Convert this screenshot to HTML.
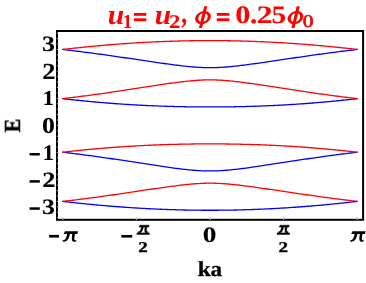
<!DOCTYPE html>
<html><head><meta charset="utf-8"><title>plot</title>
<style>
html,body{margin:0;padding:0;background:#fff;}
body{width:366px;height:283px;overflow:hidden;font-family:"Liberation Serif",serif;}
svg{display:block;position:absolute;left:0;top:0;}
text{font-family:"Liberation Serif",serif;font-weight:bold;stroke-linejoin:round;text-rendering:geometricPrecision;}
</style></head><body>
<svg width="366" height="283" viewBox="0 0 366 283">
<rect x="0" y="0" width="366" height="283" fill="#fff"/>
<g fill="none" stroke-width="1.3" stroke-linejoin="round" stroke-linecap="round">
<path d="M62.78,49.46 L64.42,49.65 L66.06,49.85 L67.69,50.04 L69.33,50.24 L70.96,50.43 L72.60,50.63 L74.24,50.84 L75.87,51.04 L77.51,51.24 L79.14,51.45 L80.78,51.66 L82.41,51.86 L84.05,52.08 L85.69,52.29 L87.32,52.50 L88.96,52.72 L90.59,52.93 L92.23,53.15 L93.86,53.37 L95.50,53.59 L97.14,53.81 L98.77,54.03 L100.41,54.26 L102.04,54.48 L103.68,54.71 L105.31,54.94 L106.95,55.17 L108.59,55.40 L110.22,55.63 L111.86,55.86 L113.49,56.10 L115.13,56.33 L116.76,56.57 L118.40,56.80 L120.04,57.04 L121.67,57.28 L123.31,57.51 L124.94,57.75 L126.58,57.99 L128.21,58.23 L129.85,58.47 L131.49,58.72 L133.12,58.96 L134.76,59.20 L136.39,59.44 L138.03,59.69 L139.66,59.93 L141.30,60.17 L142.94,60.41 L144.57,60.66 L146.21,60.90 L147.84,61.14 L149.48,61.38 L151.11,61.62 L152.75,61.86 L154.39,62.10 L156.02,62.34 L157.66,62.58 L159.29,62.81 L160.93,63.05 L162.56,63.28 L164.20,63.51 L165.84,63.74 L167.47,63.97 L169.11,64.19 L170.74,64.41 L172.38,64.63 L174.01,64.84 L175.65,65.05 L177.29,65.26 L178.92,65.46 L180.56,65.65 L182.19,65.85 L183.83,66.03 L185.46,66.21 L187.10,66.38 L188.74,66.54 L190.37,66.69 L192.01,66.84 L193.64,66.98 L195.28,67.10 L196.91,67.21 L198.55,67.32 L200.19,67.41 L201.82,67.49 L203.46,67.55 L205.09,67.60 L206.73,67.64 L208.36,67.66 L210.00,67.67 L211.64,67.66 L213.27,67.64 L214.91,67.60 L216.54,67.55 L218.18,67.49 L219.81,67.41 L221.45,67.32 L223.09,67.21 L224.72,67.10 L226.36,66.98 L227.99,66.84 L229.63,66.69 L231.26,66.54 L232.90,66.38 L234.54,66.21 L236.17,66.03 L237.81,65.85 L239.44,65.65 L241.08,65.46 L242.71,65.26 L244.35,65.05 L245.99,64.84 L247.62,64.63 L249.26,64.41 L250.89,64.19 L252.53,63.97 L254.16,63.74 L255.80,63.51 L257.44,63.28 L259.07,63.05 L260.71,62.81 L262.34,62.58 L263.98,62.34 L265.61,62.10 L267.25,61.86 L268.89,61.62 L270.52,61.38 L272.16,61.14 L273.79,60.90 L275.43,60.66 L277.06,60.41 L278.70,60.17 L280.34,59.93 L281.97,59.69 L283.61,59.44 L285.24,59.20 L286.88,58.96 L288.51,58.72 L290.15,58.47 L291.79,58.23 L293.42,57.99 L295.06,57.75 L296.69,57.51 L298.33,57.28 L299.96,57.04 L301.60,56.80 L303.24,56.57 L304.87,56.33 L306.51,56.10 L308.14,55.86 L309.78,55.63 L311.41,55.40 L313.05,55.17 L314.69,54.94 L316.32,54.71 L317.96,54.48 L319.59,54.26 L321.23,54.03 L322.86,53.81 L324.50,53.59 L326.14,53.37 L327.77,53.15 L329.41,52.93 L331.04,52.72 L332.68,52.50 L334.31,52.29 L335.95,52.08 L337.59,51.86 L339.22,51.66 L340.86,51.45 L342.49,51.24 L344.13,51.04 L345.76,50.84 L347.40,50.63 L349.04,50.43 L350.67,50.24 L352.31,50.04 L353.94,49.85 L355.58,49.65 L357.22,49.46" stroke="#0000ff"/>
<path d="M62.78,49.46 L64.42,49.27 L66.06,49.09 L67.69,48.90 L69.33,48.72 L70.96,48.53 L72.60,48.35 L74.24,48.18 L75.87,48.00 L77.51,47.82 L79.14,47.65 L80.78,47.48 L82.41,47.31 L84.05,47.14 L85.69,46.98 L87.32,46.82 L88.96,46.65 L90.59,46.49 L92.23,46.34 L93.86,46.18 L95.50,46.03 L97.14,45.88 L98.77,45.73 L100.41,45.58 L102.04,45.43 L103.68,45.29 L105.31,45.15 L106.95,45.01 L108.59,44.87 L110.22,44.74 L111.86,44.60 L113.49,44.47 L115.13,44.34 L116.76,44.22 L118.40,44.09 L120.04,43.97 L121.67,43.85 L123.31,43.73 L124.94,43.61 L126.58,43.50 L128.21,43.39 L129.85,43.28 L131.49,43.17 L133.12,43.07 L134.76,42.96 L136.39,42.86 L138.03,42.76 L139.66,42.67 L141.30,42.57 L142.94,42.48 L144.57,42.39 L146.21,42.30 L147.84,42.21 L149.48,42.13 L151.11,42.05 L152.75,41.97 L154.39,41.89 L156.02,41.82 L157.66,41.74 L159.29,41.67 L160.93,41.61 L162.56,41.54 L164.20,41.48 L165.84,41.41 L167.47,41.35 L169.11,41.30 L170.74,41.24 L172.38,41.19 L174.01,41.14 L175.65,41.09 L177.29,41.05 L178.92,41.00 L180.56,40.96 L182.19,40.92 L183.83,40.88 L185.46,40.85 L187.10,40.82 L188.74,40.79 L190.37,40.76 L192.01,40.73 L193.64,40.71 L195.28,40.69 L196.91,40.67 L198.55,40.65 L200.19,40.64 L201.82,40.62 L203.46,40.61 L205.09,40.61 L206.73,40.60 L208.36,40.60 L210.00,40.60 L211.64,40.60 L213.27,40.60 L214.91,40.61 L216.54,40.61 L218.18,40.62 L219.81,40.64 L221.45,40.65 L223.09,40.67 L224.72,40.69 L226.36,40.71 L227.99,40.73 L229.63,40.76 L231.26,40.79 L232.90,40.82 L234.54,40.85 L236.17,40.88 L237.81,40.92 L239.44,40.96 L241.08,41.00 L242.71,41.05 L244.35,41.09 L245.99,41.14 L247.62,41.19 L249.26,41.24 L250.89,41.30 L252.53,41.35 L254.16,41.41 L255.80,41.48 L257.44,41.54 L259.07,41.61 L260.71,41.67 L262.34,41.74 L263.98,41.82 L265.61,41.89 L267.25,41.97 L268.89,42.05 L270.52,42.13 L272.16,42.21 L273.79,42.30 L275.43,42.39 L277.06,42.48 L278.70,42.57 L280.34,42.67 L281.97,42.76 L283.61,42.86 L285.24,42.96 L286.88,43.07 L288.51,43.17 L290.15,43.28 L291.79,43.39 L293.42,43.50 L295.06,43.61 L296.69,43.73 L298.33,43.85 L299.96,43.97 L301.60,44.09 L303.24,44.22 L304.87,44.34 L306.51,44.47 L308.14,44.60 L309.78,44.74 L311.41,44.87 L313.05,45.01 L314.69,45.15 L316.32,45.29 L317.96,45.43 L319.59,45.58 L321.23,45.73 L322.86,45.88 L324.50,46.03 L326.14,46.18 L327.77,46.34 L329.41,46.49 L331.04,46.65 L332.68,46.82 L334.31,46.98 L335.95,47.14 L337.59,47.31 L339.22,47.48 L340.86,47.65 L342.49,47.82 L344.13,48.00 L345.76,48.18 L347.40,48.35 L349.04,48.53 L350.67,48.72 L352.31,48.90 L353.94,49.09 L355.58,49.27 L357.22,49.46" stroke="#ff0000"/>
<path d="M62.78,98.65 L64.42,98.83 L66.06,99.02 L67.69,99.21 L69.33,99.39 L70.96,99.57 L72.60,99.75 L74.24,99.92 L75.87,100.10 L77.51,100.27 L79.14,100.44 L80.78,100.61 L82.41,100.77 L84.05,100.94 L85.69,101.10 L87.32,101.26 L88.96,101.41 L90.59,101.57 L92.23,101.72 L93.86,101.87 L95.50,102.02 L97.14,102.16 L98.77,102.31 L100.41,102.45 L102.04,102.58 L103.68,102.72 L105.31,102.85 L106.95,102.99 L108.59,103.12 L110.22,103.24 L111.86,103.37 L113.49,103.49 L115.13,103.61 L116.76,103.73 L118.40,103.85 L120.04,103.96 L121.67,104.07 L123.31,104.18 L124.94,104.29 L126.58,104.39 L128.21,104.50 L129.85,104.60 L131.49,104.69 L133.12,104.79 L134.76,104.88 L136.39,104.98 L138.03,105.07 L139.66,105.15 L141.30,105.24 L142.94,105.32 L144.57,105.40 L146.21,105.48 L147.84,105.56 L149.48,105.63 L151.11,105.70 L152.75,105.77 L154.39,105.84 L156.02,105.91 L157.66,105.97 L159.29,106.04 L160.93,106.10 L162.56,106.15 L164.20,106.21 L165.84,106.26 L167.47,106.31 L169.11,106.36 L170.74,106.41 L172.38,106.46 L174.01,106.50 L175.65,106.54 L177.29,106.58 L178.92,106.62 L180.56,106.66 L182.19,106.69 L183.83,106.72 L185.46,106.75 L187.10,106.78 L188.74,106.81 L190.37,106.83 L192.01,106.85 L193.64,106.87 L195.28,106.89 L196.91,106.91 L198.55,106.92 L200.19,106.93 L201.82,106.94 L203.46,106.95 L205.09,106.96 L206.73,106.97 L208.36,106.97 L210.00,106.97 L211.64,106.97 L213.27,106.97 L214.91,106.96 L216.54,106.95 L218.18,106.94 L219.81,106.93 L221.45,106.92 L223.09,106.91 L224.72,106.89 L226.36,106.87 L227.99,106.85 L229.63,106.83 L231.26,106.81 L232.90,106.78 L234.54,106.75 L236.17,106.72 L237.81,106.69 L239.44,106.66 L241.08,106.62 L242.71,106.58 L244.35,106.54 L245.99,106.50 L247.62,106.46 L249.26,106.41 L250.89,106.36 L252.53,106.31 L254.16,106.26 L255.80,106.21 L257.44,106.15 L259.07,106.10 L260.71,106.04 L262.34,105.97 L263.98,105.91 L265.61,105.84 L267.25,105.77 L268.89,105.70 L270.52,105.63 L272.16,105.56 L273.79,105.48 L275.43,105.40 L277.06,105.32 L278.70,105.24 L280.34,105.15 L281.97,105.07 L283.61,104.98 L285.24,104.88 L286.88,104.79 L288.51,104.69 L290.15,104.60 L291.79,104.50 L293.42,104.39 L295.06,104.29 L296.69,104.18 L298.33,104.07 L299.96,103.96 L301.60,103.85 L303.24,103.73 L304.87,103.61 L306.51,103.49 L308.14,103.37 L309.78,103.24 L311.41,103.12 L313.05,102.99 L314.69,102.85 L316.32,102.72 L317.96,102.58 L319.59,102.45 L321.23,102.31 L322.86,102.16 L324.50,102.02 L326.14,101.87 L327.77,101.72 L329.41,101.57 L331.04,101.41 L332.68,101.26 L334.31,101.10 L335.95,100.94 L337.59,100.77 L339.22,100.61 L340.86,100.44 L342.49,100.27 L344.13,100.10 L345.76,99.92 L347.40,99.75 L349.04,99.57 L350.67,99.39 L352.31,99.21 L353.94,99.02 L355.58,98.83 L357.22,98.65" stroke="#0000ff"/>
<path d="M62.78,98.65 L64.42,98.45 L66.06,98.26 L67.69,98.07 L69.33,97.87 L70.96,97.67 L72.60,97.47 L74.24,97.26 L75.87,97.06 L77.51,96.85 L79.14,96.64 L80.78,96.43 L82.41,96.22 L84.05,96.01 L85.69,95.79 L87.32,95.57 L88.96,95.35 L90.59,95.13 L92.23,94.91 L93.86,94.68 L95.50,94.46 L97.14,94.23 L98.77,94.00 L100.41,93.77 L102.04,93.53 L103.68,93.30 L105.31,93.06 L106.95,92.83 L108.59,92.59 L110.22,92.35 L111.86,92.11 L113.49,91.87 L115.13,91.63 L116.76,91.38 L118.40,91.14 L120.04,90.89 L121.67,90.64 L123.31,90.40 L124.94,90.15 L126.58,89.90 L128.21,89.65 L129.85,89.40 L131.49,89.15 L133.12,88.90 L134.76,88.65 L136.39,88.39 L138.03,88.14 L139.66,87.89 L141.30,87.64 L142.94,87.39 L144.57,87.13 L146.21,86.88 L147.84,86.63 L149.48,86.38 L151.11,86.13 L152.75,85.88 L154.39,85.63 L156.02,85.39 L157.66,85.14 L159.29,84.90 L160.93,84.65 L162.56,84.41 L164.20,84.17 L165.84,83.94 L167.47,83.70 L169.11,83.47 L170.74,83.24 L172.38,83.02 L174.01,82.80 L175.65,82.58 L177.29,82.37 L178.92,82.16 L180.56,81.96 L182.19,81.77 L183.83,81.58 L185.46,81.39 L187.10,81.22 L188.74,81.05 L190.37,80.89 L192.01,80.75 L193.64,80.61 L195.28,80.48 L196.91,80.36 L198.55,80.26 L200.19,80.16 L201.82,80.08 L203.46,80.02 L205.09,79.97 L206.73,79.93 L208.36,79.91 L210.00,79.90 L211.64,79.91 L213.27,79.93 L214.91,79.97 L216.54,80.02 L218.18,80.08 L219.81,80.16 L221.45,80.26 L223.09,80.36 L224.72,80.48 L226.36,80.61 L227.99,80.75 L229.63,80.89 L231.26,81.05 L232.90,81.22 L234.54,81.39 L236.17,81.58 L237.81,81.77 L239.44,81.96 L241.08,82.16 L242.71,82.37 L244.35,82.58 L245.99,82.80 L247.62,83.02 L249.26,83.24 L250.89,83.47 L252.53,83.70 L254.16,83.94 L255.80,84.17 L257.44,84.41 L259.07,84.65 L260.71,84.90 L262.34,85.14 L263.98,85.39 L265.61,85.63 L267.25,85.88 L268.89,86.13 L270.52,86.38 L272.16,86.63 L273.79,86.88 L275.43,87.13 L277.06,87.39 L278.70,87.64 L280.34,87.89 L281.97,88.14 L283.61,88.39 L285.24,88.65 L286.88,88.90 L288.51,89.15 L290.15,89.40 L291.79,89.65 L293.42,89.90 L295.06,90.15 L296.69,90.40 L298.33,90.64 L299.96,90.89 L301.60,91.14 L303.24,91.38 L304.87,91.63 L306.51,91.87 L308.14,92.11 L309.78,92.35 L311.41,92.59 L313.05,92.83 L314.69,93.06 L316.32,93.30 L317.96,93.53 L319.59,93.77 L321.23,94.00 L322.86,94.23 L324.50,94.46 L326.14,94.68 L327.77,94.91 L329.41,95.13 L331.04,95.35 L332.68,95.57 L334.31,95.79 L335.95,96.01 L337.59,96.22 L339.22,96.43 L340.86,96.64 L342.49,96.85 L344.13,97.06 L345.76,97.26 L347.40,97.47 L349.04,97.67 L350.67,97.87 L352.31,98.07 L353.94,98.26 L355.58,98.45 L357.22,98.65" stroke="#ff0000"/>
<path d="M62.78,152.21 L64.42,152.41 L66.06,152.60 L67.69,152.79 L69.33,152.99 L70.96,153.19 L72.60,153.39 L74.24,153.60 L75.87,153.80 L77.51,154.01 L79.14,154.22 L80.78,154.43 L82.41,154.64 L84.05,154.85 L85.69,155.07 L87.32,155.29 L88.96,155.51 L90.59,155.73 L92.23,155.95 L93.86,156.18 L95.50,156.40 L97.14,156.63 L98.77,156.86 L100.41,157.09 L102.04,157.33 L103.68,157.56 L105.31,157.80 L106.95,158.03 L108.59,158.27 L110.22,158.51 L111.86,158.75 L113.49,158.99 L115.13,159.23 L116.76,159.48 L118.40,159.72 L120.04,159.97 L121.67,160.22 L123.31,160.46 L124.94,160.71 L126.58,160.96 L128.21,161.21 L129.85,161.46 L131.49,161.71 L133.12,161.96 L134.76,162.21 L136.39,162.47 L138.03,162.72 L139.66,162.97 L141.30,163.22 L142.94,163.47 L144.57,163.73 L146.21,163.98 L147.84,164.23 L149.48,164.48 L151.11,164.73 L152.75,164.98 L154.39,165.23 L156.02,165.47 L157.66,165.72 L159.29,165.96 L160.93,166.21 L162.56,166.45 L164.20,166.69 L165.84,166.92 L167.47,167.16 L169.11,167.39 L170.74,167.62 L172.38,167.84 L174.01,168.06 L175.65,168.28 L177.29,168.49 L178.92,168.70 L180.56,168.90 L182.19,169.09 L183.83,169.28 L185.46,169.47 L187.10,169.64 L188.74,169.81 L190.37,169.97 L192.01,170.11 L193.64,170.25 L195.28,170.38 L196.91,170.50 L198.55,170.60 L200.19,170.70 L201.82,170.78 L203.46,170.84 L205.09,170.89 L206.73,170.93 L208.36,170.95 L210.00,170.96 L211.64,170.95 L213.27,170.93 L214.91,170.89 L216.54,170.84 L218.18,170.78 L219.81,170.70 L221.45,170.60 L223.09,170.50 L224.72,170.38 L226.36,170.25 L227.99,170.11 L229.63,169.97 L231.26,169.81 L232.90,169.64 L234.54,169.47 L236.17,169.28 L237.81,169.09 L239.44,168.90 L241.08,168.70 L242.71,168.49 L244.35,168.28 L245.99,168.06 L247.62,167.84 L249.26,167.62 L250.89,167.39 L252.53,167.16 L254.16,166.92 L255.80,166.69 L257.44,166.45 L259.07,166.21 L260.71,165.96 L262.34,165.72 L263.98,165.47 L265.61,165.23 L267.25,164.98 L268.89,164.73 L270.52,164.48 L272.16,164.23 L273.79,163.98 L275.43,163.73 L277.06,163.47 L278.70,163.22 L280.34,162.97 L281.97,162.72 L283.61,162.47 L285.24,162.21 L286.88,161.96 L288.51,161.71 L290.15,161.46 L291.79,161.21 L293.42,160.96 L295.06,160.71 L296.69,160.46 L298.33,160.22 L299.96,159.97 L301.60,159.72 L303.24,159.48 L304.87,159.23 L306.51,158.99 L308.14,158.75 L309.78,158.51 L311.41,158.27 L313.05,158.03 L314.69,157.80 L316.32,157.56 L317.96,157.33 L319.59,157.09 L321.23,156.86 L322.86,156.63 L324.50,156.40 L326.14,156.18 L327.77,155.95 L329.41,155.73 L331.04,155.51 L332.68,155.29 L334.31,155.07 L335.95,154.85 L337.59,154.64 L339.22,154.43 L340.86,154.22 L342.49,154.01 L344.13,153.80 L345.76,153.60 L347.40,153.39 L349.04,153.19 L350.67,152.99 L352.31,152.79 L353.94,152.60 L355.58,152.41 L357.22,152.21" stroke="#0000ff"/>
<path d="M62.78,152.21 L64.42,152.03 L66.06,151.84 L67.69,151.65 L69.33,151.47 L70.96,151.29 L72.60,151.11 L74.24,150.94 L75.87,150.76 L77.51,150.59 L79.14,150.42 L80.78,150.25 L82.41,150.09 L84.05,149.92 L85.69,149.76 L87.32,149.60 L88.96,149.45 L90.59,149.29 L92.23,149.14 L93.86,148.99 L95.50,148.84 L97.14,148.70 L98.77,148.55 L100.41,148.41 L102.04,148.28 L103.68,148.14 L105.31,148.01 L106.95,147.87 L108.59,147.74 L110.22,147.62 L111.86,147.49 L113.49,147.37 L115.13,147.25 L116.76,147.13 L118.40,147.01 L120.04,146.90 L121.67,146.79 L123.31,146.68 L124.94,146.57 L126.58,146.47 L128.21,146.36 L129.85,146.26 L131.49,146.17 L133.12,146.07 L134.76,145.98 L136.39,145.88 L138.03,145.79 L139.66,145.71 L141.30,145.62 L142.94,145.54 L144.57,145.46 L146.21,145.38 L147.84,145.30 L149.48,145.23 L151.11,145.16 L152.75,145.09 L154.39,145.02 L156.02,144.95 L157.66,144.89 L159.29,144.82 L160.93,144.76 L162.56,144.71 L164.20,144.65 L165.84,144.60 L167.47,144.55 L169.11,144.50 L170.74,144.45 L172.38,144.40 L174.01,144.36 L175.65,144.32 L177.29,144.28 L178.92,144.24 L180.56,144.20 L182.19,144.17 L183.83,144.14 L185.46,144.11 L187.10,144.08 L188.74,144.05 L190.37,144.03 L192.01,144.01 L193.64,143.99 L195.28,143.97 L196.91,143.95 L198.55,143.94 L200.19,143.93 L201.82,143.92 L203.46,143.91 L205.09,143.90 L206.73,143.89 L208.36,143.89 L210.00,143.89 L211.64,143.89 L213.27,143.89 L214.91,143.90 L216.54,143.91 L218.18,143.92 L219.81,143.93 L221.45,143.94 L223.09,143.95 L224.72,143.97 L226.36,143.99 L227.99,144.01 L229.63,144.03 L231.26,144.05 L232.90,144.08 L234.54,144.11 L236.17,144.14 L237.81,144.17 L239.44,144.20 L241.08,144.24 L242.71,144.28 L244.35,144.32 L245.99,144.36 L247.62,144.40 L249.26,144.45 L250.89,144.50 L252.53,144.55 L254.16,144.60 L255.80,144.65 L257.44,144.71 L259.07,144.76 L260.71,144.82 L262.34,144.89 L263.98,144.95 L265.61,145.02 L267.25,145.09 L268.89,145.16 L270.52,145.23 L272.16,145.30 L273.79,145.38 L275.43,145.46 L277.06,145.54 L278.70,145.62 L280.34,145.71 L281.97,145.79 L283.61,145.88 L285.24,145.98 L286.88,146.07 L288.51,146.17 L290.15,146.26 L291.79,146.36 L293.42,146.47 L295.06,146.57 L296.69,146.68 L298.33,146.79 L299.96,146.90 L301.60,147.01 L303.24,147.13 L304.87,147.25 L306.51,147.37 L308.14,147.49 L309.78,147.62 L311.41,147.74 L313.05,147.87 L314.69,148.01 L316.32,148.14 L317.96,148.28 L319.59,148.41 L321.23,148.55 L322.86,148.70 L324.50,148.84 L326.14,148.99 L327.77,149.14 L329.41,149.29 L331.04,149.45 L332.68,149.60 L334.31,149.76 L335.95,149.92 L337.59,150.09 L339.22,150.25 L340.86,150.42 L342.49,150.59 L344.13,150.76 L345.76,150.94 L347.40,151.11 L349.04,151.29 L350.67,151.47 L352.31,151.65 L353.94,151.84 L355.58,152.03 L357.22,152.21" stroke="#ff0000"/>
<path d="M62.78,201.40 L64.42,201.59 L66.06,201.77 L67.69,201.96 L69.33,202.14 L70.96,202.33 L72.60,202.51 L74.24,202.68 L75.87,202.86 L77.51,203.04 L79.14,203.21 L80.78,203.38 L82.41,203.55 L84.05,203.72 L85.69,203.88 L87.32,204.04 L88.96,204.21 L90.59,204.37 L92.23,204.52 L93.86,204.68 L95.50,204.83 L97.14,204.98 L98.77,205.13 L100.41,205.28 L102.04,205.43 L103.68,205.57 L105.31,205.71 L106.95,205.85 L108.59,205.99 L110.22,206.12 L111.86,206.26 L113.49,206.39 L115.13,206.52 L116.76,206.64 L118.40,206.77 L120.04,206.89 L121.67,207.01 L123.31,207.13 L124.94,207.25 L126.58,207.36 L128.21,207.47 L129.85,207.58 L131.49,207.69 L133.12,207.79 L134.76,207.90 L136.39,208.00 L138.03,208.10 L139.66,208.19 L141.30,208.29 L142.94,208.38 L144.57,208.47 L146.21,208.56 L147.84,208.65 L149.48,208.73 L151.11,208.81 L152.75,208.89 L154.39,208.97 L156.02,209.04 L157.66,209.12 L159.29,209.19 L160.93,209.25 L162.56,209.32 L164.20,209.38 L165.84,209.45 L167.47,209.51 L169.11,209.56 L170.74,209.62 L172.38,209.67 L174.01,209.72 L175.65,209.77 L177.29,209.81 L178.92,209.86 L180.56,209.90 L182.19,209.94 L183.83,209.98 L185.46,210.01 L187.10,210.04 L188.74,210.07 L190.37,210.10 L192.01,210.13 L193.64,210.15 L195.28,210.17 L196.91,210.19 L198.55,210.21 L200.19,210.22 L201.82,210.24 L203.46,210.25 L205.09,210.25 L206.73,210.26 L208.36,210.26 L210.00,210.26 L211.64,210.26 L213.27,210.26 L214.91,210.25 L216.54,210.25 L218.18,210.24 L219.81,210.22 L221.45,210.21 L223.09,210.19 L224.72,210.17 L226.36,210.15 L227.99,210.13 L229.63,210.10 L231.26,210.07 L232.90,210.04 L234.54,210.01 L236.17,209.98 L237.81,209.94 L239.44,209.90 L241.08,209.86 L242.71,209.81 L244.35,209.77 L245.99,209.72 L247.62,209.67 L249.26,209.62 L250.89,209.56 L252.53,209.51 L254.16,209.45 L255.80,209.38 L257.44,209.32 L259.07,209.25 L260.71,209.19 L262.34,209.12 L263.98,209.04 L265.61,208.97 L267.25,208.89 L268.89,208.81 L270.52,208.73 L272.16,208.65 L273.79,208.56 L275.43,208.47 L277.06,208.38 L278.70,208.29 L280.34,208.19 L281.97,208.10 L283.61,208.00 L285.24,207.90 L286.88,207.79 L288.51,207.69 L290.15,207.58 L291.79,207.47 L293.42,207.36 L295.06,207.25 L296.69,207.13 L298.33,207.01 L299.96,206.89 L301.60,206.77 L303.24,206.64 L304.87,206.52 L306.51,206.39 L308.14,206.26 L309.78,206.12 L311.41,205.99 L313.05,205.85 L314.69,205.71 L316.32,205.57 L317.96,205.43 L319.59,205.28 L321.23,205.13 L322.86,204.98 L324.50,204.83 L326.14,204.68 L327.77,204.52 L329.41,204.37 L331.04,204.21 L332.68,204.04 L334.31,203.88 L335.95,203.72 L337.59,203.55 L339.22,203.38 L340.86,203.21 L342.49,203.04 L344.13,202.86 L345.76,202.68 L347.40,202.51 L349.04,202.33 L350.67,202.14 L352.31,201.96 L353.94,201.77 L355.58,201.59 L357.22,201.40" stroke="#0000ff"/>
<path d="M62.78,201.40 L64.42,201.21 L66.06,201.01 L67.69,200.82 L69.33,200.62 L70.96,200.43 L72.60,200.23 L74.24,200.02 L75.87,199.82 L77.51,199.62 L79.14,199.41 L80.78,199.20 L82.41,199.00 L84.05,198.78 L85.69,198.57 L87.32,198.36 L88.96,198.14 L90.59,197.93 L92.23,197.71 L93.86,197.49 L95.50,197.27 L97.14,197.05 L98.77,196.83 L100.41,196.60 L102.04,196.38 L103.68,196.15 L105.31,195.92 L106.95,195.69 L108.59,195.46 L110.22,195.23 L111.86,195.00 L113.49,194.76 L115.13,194.53 L116.76,194.29 L118.40,194.06 L120.04,193.82 L121.67,193.58 L123.31,193.35 L124.94,193.11 L126.58,192.87 L128.21,192.63 L129.85,192.39 L131.49,192.14 L133.12,191.90 L134.76,191.66 L136.39,191.42 L138.03,191.17 L139.66,190.93 L141.30,190.69 L142.94,190.45 L144.57,190.20 L146.21,189.96 L147.84,189.72 L149.48,189.48 L151.11,189.24 L152.75,189.00 L154.39,188.76 L156.02,188.52 L157.66,188.28 L159.29,188.05 L160.93,187.81 L162.56,187.58 L164.20,187.35 L165.84,187.12 L167.47,186.89 L169.11,186.67 L170.74,186.45 L172.38,186.23 L174.01,186.02 L175.65,185.81 L177.29,185.60 L178.92,185.40 L180.56,185.21 L182.19,185.01 L183.83,184.83 L185.46,184.65 L187.10,184.48 L188.74,184.32 L190.37,184.17 L192.01,184.02 L193.64,183.88 L195.28,183.76 L196.91,183.65 L198.55,183.54 L200.19,183.45 L201.82,183.37 L203.46,183.31 L205.09,183.26 L206.73,183.22 L208.36,183.20 L210.00,183.19 L211.64,183.20 L213.27,183.22 L214.91,183.26 L216.54,183.31 L218.18,183.37 L219.81,183.45 L221.45,183.54 L223.09,183.65 L224.72,183.76 L226.36,183.88 L227.99,184.02 L229.63,184.17 L231.26,184.32 L232.90,184.48 L234.54,184.65 L236.17,184.83 L237.81,185.01 L239.44,185.21 L241.08,185.40 L242.71,185.60 L244.35,185.81 L245.99,186.02 L247.62,186.23 L249.26,186.45 L250.89,186.67 L252.53,186.89 L254.16,187.12 L255.80,187.35 L257.44,187.58 L259.07,187.81 L260.71,188.05 L262.34,188.28 L263.98,188.52 L265.61,188.76 L267.25,189.00 L268.89,189.24 L270.52,189.48 L272.16,189.72 L273.79,189.96 L275.43,190.20 L277.06,190.45 L278.70,190.69 L280.34,190.93 L281.97,191.17 L283.61,191.42 L285.24,191.66 L286.88,191.90 L288.51,192.14 L290.15,192.39 L291.79,192.63 L293.42,192.87 L295.06,193.11 L296.69,193.35 L298.33,193.58 L299.96,193.82 L301.60,194.06 L303.24,194.29 L304.87,194.53 L306.51,194.76 L308.14,195.00 L309.78,195.23 L311.41,195.46 L313.05,195.69 L314.69,195.92 L316.32,196.15 L317.96,196.38 L319.59,196.60 L321.23,196.83 L322.86,197.05 L324.50,197.27 L326.14,197.49 L327.77,197.71 L329.41,197.93 L331.04,198.14 L332.68,198.36 L334.31,198.57 L335.95,198.78 L337.59,199.00 L339.22,199.20 L340.86,199.41 L342.49,199.62 L344.13,199.82 L345.76,200.02 L347.40,200.23 L349.04,200.43 L350.67,200.62 L352.31,200.82 L353.94,201.01 L355.58,201.21 L357.22,201.40" stroke="#ff0000"/>
</g>
<rect x="57.0" y="31.0" width="306.1" height="188.8" fill="none" stroke="#000" stroke-width="2"/>
<g stroke="#b8b8b8" stroke-width="0.9">
<line x1="56.8" y1="217.71" x2="58.3" y2="217.71"/>
<line x1="56.8" y1="212.28" x2="58.3" y2="212.28"/>
<line x1="56.8" y1="206.85" x2="59.0" y2="206.85"/>
<line x1="56.8" y1="201.42" x2="58.3" y2="201.42"/>
<line x1="56.8" y1="195.99" x2="58.3" y2="195.99"/>
<line x1="56.8" y1="190.57" x2="58.3" y2="190.57"/>
<line x1="56.8" y1="185.14" x2="58.3" y2="185.14"/>
<line x1="56.8" y1="179.71" x2="59.0" y2="179.71"/>
<line x1="56.8" y1="174.28" x2="58.3" y2="174.28"/>
<line x1="56.8" y1="168.85" x2="58.3" y2="168.85"/>
<line x1="56.8" y1="163.43" x2="58.3" y2="163.43"/>
<line x1="56.8" y1="158.00" x2="58.3" y2="158.00"/>
<line x1="56.8" y1="152.57" x2="59.0" y2="152.57"/>
<line x1="56.8" y1="147.14" x2="58.3" y2="147.14"/>
<line x1="56.8" y1="141.71" x2="58.3" y2="141.71"/>
<line x1="56.8" y1="136.29" x2="58.3" y2="136.29"/>
<line x1="56.8" y1="130.86" x2="58.3" y2="130.86"/>
<line x1="56.8" y1="125.43" x2="59.0" y2="125.43"/>
<line x1="56.8" y1="120.00" x2="58.3" y2="120.00"/>
<line x1="56.8" y1="114.57" x2="58.3" y2="114.57"/>
<line x1="56.8" y1="109.15" x2="58.3" y2="109.15"/>
<line x1="56.8" y1="103.72" x2="58.3" y2="103.72"/>
<line x1="56.8" y1="98.29" x2="59.0" y2="98.29"/>
<line x1="56.8" y1="92.86" x2="58.3" y2="92.86"/>
<line x1="56.8" y1="87.43" x2="58.3" y2="87.43"/>
<line x1="56.8" y1="82.01" x2="58.3" y2="82.01"/>
<line x1="56.8" y1="76.58" x2="58.3" y2="76.58"/>
<line x1="56.8" y1="71.15" x2="59.0" y2="71.15"/>
<line x1="56.8" y1="65.72" x2="58.3" y2="65.72"/>
<line x1="56.8" y1="60.29" x2="58.3" y2="60.29"/>
<line x1="56.8" y1="54.87" x2="58.3" y2="54.87"/>
<line x1="56.8" y1="49.44" x2="58.3" y2="49.44"/>
<line x1="56.8" y1="44.01" x2="59.0" y2="44.01"/>
<line x1="56.8" y1="38.58" x2="58.3" y2="38.58"/>
<line x1="56.8" y1="33.15" x2="58.3" y2="33.15"/>
<line x1="62.78" y1="220.0" x2="62.78" y2="217.60000000000002" stroke="#aaa" stroke-width="1.2"/>
<line x1="136.39" y1="220.0" x2="136.39" y2="217.60000000000002" stroke="#aaa" stroke-width="1.2"/>
<line x1="210.00" y1="220.0" x2="210.00" y2="217.60000000000002" stroke="#aaa" stroke-width="1.2"/>
<line x1="283.61" y1="220.0" x2="283.61" y2="217.60000000000002" stroke="#aaa" stroke-width="1.2"/>
<line x1="357.22" y1="220.0" x2="357.22" y2="217.60000000000002" stroke="#aaa" stroke-width="1.2"/>
</g>
<g opacity="0.999">
<text transform="translate(107.82,24.00) scale(1.232,1.180)" style="font-size:24px;font-style:italic;" fill="#ff0000" stroke="#ff0000" stroke-width="0.00">u</text>
<text transform="translate(122.75,28.00) scale(1.102,1.163)" style="font-size:17px;" fill="#ff0000" stroke="#ff0000" stroke-width="0.09">1</text>
<text transform="translate(154.72,24.00) scale(1.224,1.180)" style="font-size:24px;font-style:italic;" fill="#ff0000" stroke="#ff0000" stroke-width="0.00">u</text>
<text transform="translate(169.00,28.00) scale(1.332,1.142)" style="font-size:17px;" fill="#ff0000" stroke="#ff0000" stroke-width="0.08">2</text>
<text transform="translate(182.34,23.00) scale(0.948,1.205)" style="font-size:24px;font-style:italic;" fill="#ff0000" stroke="#ff0000" stroke-width="0.28">,</text>
<text transform="translate(235.19,23.00) scale(1.268,1.043)" style="font-size:24px;" fill="#ff0000" stroke="#ff0000" stroke-width="0.09">0</text>
<text transform="translate(250.31,23.00) scale(1.131,1.070)" style="font-size:24px;" fill="#ff0000" stroke="#ff0000" stroke-width="0.36">.</text>
<text transform="translate(256.59,23.00) scale(1.345,1.041)" style="font-size:24px;" fill="#ff0000" stroke="#ff0000" stroke-width="0.08">2</text>
<text transform="translate(271.58,23.00) scale(1.220,1.047)" style="font-size:24px;" fill="#ff0000" stroke="#ff0000" stroke-width="0.09">5</text>
<text transform="translate(302.85,27.00) scale(1.270,1.055)" style="font-size:17px;font-weight:normal;" fill="#ff0000" stroke="#ff0000" stroke-width="0.65">0</text>
<text transform="translate(42.10,51.00) scale(1.173,0.997)" style="font-size:22px;" fill="#000" stroke="#000" stroke-width="0.14">3</text>
<text transform="translate(42.17,79.00) scale(1.199,1.045)" style="font-size:22px;" fill="#000" stroke="#000" stroke-width="0.13">2</text>
<text transform="translate(42.80,105.00) scale(1.006,0.966)" style="font-size:22px;" fill="#000" stroke="#000" stroke-width="0.15">1</text>
<text transform="translate(42.09,133.00) scale(1.174,1.041)" style="font-size:22px;" fill="#000" stroke="#000" stroke-width="0.14">0</text>
<text transform="translate(42.68,160.00) scale(1.019,1.014)" style="font-size:22px;" fill="#000" stroke="#000" stroke-width="0.15">1</text>
<text transform="translate(42.17,187.00) scale(1.199,0.990)" style="font-size:22px;" fill="#000" stroke="#000" stroke-width="0.14">2</text>
<text transform="translate(42.10,214.00) scale(1.173,1.004)" style="font-size:22px;" fill="#000" stroke="#000" stroke-width="0.14">3</text>
<text transform="translate(202.84,242.00) scale(1.239,1.006)" style="font-size:22px;" fill="#000" stroke="#000" stroke-width="0.13">0</text>
<text transform="translate(138.30,252.00) scale(1.269,0.997)" style="font-size:15px;" fill="#000" stroke="#000" stroke-width="0.35">2</text>
<text transform="translate(278.50,252.00) scale(1.269,0.997)" style="font-size:15px;" fill="#000" stroke="#000" stroke-width="0.35">2</text>
<text transform="translate(197.76,276.00) scale(1.072,0.973)" style="font-size:22px;" fill="#000" stroke="#000" stroke-width="0.29">k</text>
<text transform="translate(210.60,276.00) scale(1.054,0.974)" style="font-size:22px;" fill="#000" stroke="#000" stroke-width="0.30">a</text>
<text transform="translate(20.0,132.5) rotate(-90) scale(0.94,1.05)" style="font-size:22px" fill="#000" stroke="#000" stroke-width="0.4">E</text>
</g>
<g fill="#ff0000">
<rect x="134" y="13" width="12.3" height="2.8"/><rect x="134" y="18.3" width="12.3" height="2.9"/>
<rect x="216.8" y="13" width="12.5" height="2.8"/><rect x="216.8" y="18.3" width="12.5" height="2.9"/>
</g>
<g transform="translate(203.0,17.6) skewX(-13.5)" fill="#ff0000"><path fill-rule="evenodd" d="M-7.8,0 A7.8,6.65 0 1,0 7.8,0 A7.8,6.65 0 1,0 -7.8,0 Z M-4.6,0 A4.6,4.35 0 1,1 4.6,0 A4.6,4.35 0 1,1 -4.6,0 Z"/><rect x="-1.55" y="-11.3" width="3.1" height="21.8"/></g>
<g transform="translate(295.5,17.6) skewX(-13.5)" fill="#ff0000"><path fill-rule="evenodd" d="M-7.8,0 A7.8,6.65 0 1,0 7.8,0 A7.8,6.65 0 1,0 -7.8,0 Z M-4.6,0 A4.6,4.35 0 1,1 4.6,0 A4.6,4.35 0 1,1 -4.6,0 Z"/><rect x="-1.55" y="-11.3" width="3.1" height="21.8"/></g>
<g fill="#000">
<rect x="29.6" y="153" width="10.2" height="2.5"/>
<rect x="29.6" y="180.15" width="10.2" height="2.5"/>
<rect x="29.6" y="207.3" width="10.2" height="2.5"/>
<rect x="49.1" y="234.9" width="9.9" height="2.7"/>
<rect x="121.3" y="235" width="10.9" height="2.6"/>
<rect x="136.7" y="232.7" width="12.9" height="2.0"/>
<rect x="276.9" y="232.7" width="12.9" height="2.0"/>
<path d="M65.0,231.3 L78.0,231.3 L77.4,233.9 L75.0,233.9 C74.4,236.5 74.2,238.5 74.5,239.6 C74.8,240.4 75.6,240.4 76.3,239.9 L76.2,241.3 C75.3,241.9 73.8,242.0 73.0,241.6 C71.6,240.8 71.6,238 72.3,233.9 L69.9,233.9 C69.4,236.5 68.6,238.8 67.0,240.6 C66.0,241.6 64.5,242.0 62.5,241.6 L62.8,240.2 C64.2,240.3 65.2,239.5 65.8,238.3 C66.5,236.8 66.9,235.3 67.1,233.9 L63.7,233.9 Z"/>
<path d="M65.0,231.3 L78.0,231.3 L77.4,233.9 L75.0,233.9 C74.4,236.5 74.2,238.5 74.5,239.6 C74.8,240.4 75.6,240.4 76.3,239.9 L76.2,241.3 C75.3,241.9 73.8,242.0 73.0,241.6 C71.6,240.8 71.6,238 72.3,233.9 L69.9,233.9 C69.4,236.5 68.6,238.8 67.0,240.6 C66.0,241.6 64.5,242.0 62.5,241.6 L62.8,240.2 C64.2,240.3 65.2,239.5 65.8,238.3 C66.5,236.8 66.9,235.3 67.1,233.9 L63.7,233.9 Z" transform="translate(287.5,0)"/>
<path d="M65.0,231.3 L78.0,231.3 L77.4,233.9 L75.0,233.9 C74.4,236.5 74.2,238.5 74.5,239.6 C74.8,240.4 75.6,240.4 76.3,239.9 L76.2,241.3 C75.3,241.9 73.8,242.0 73.0,241.6 C71.6,240.8 71.6,238 72.3,233.9 L69.9,233.9 C69.4,236.5 68.6,238.8 67.0,240.6 C66.0,241.6 64.5,242.0 62.5,241.6 L62.8,240.2 C64.2,240.3 65.2,239.5 65.8,238.3 C66.5,236.8 66.9,235.3 67.1,233.9 L63.7,233.9 Z" stroke="#000" stroke-width="0.7" stroke-linejoin="round" transform="translate(138.2,225.2) scale(0.70,0.735) translate(-62.5,-231.3)"/>
<path d="M65.0,231.3 L78.0,231.3 L77.4,233.9 L75.0,233.9 C74.4,236.5 74.2,238.5 74.5,239.6 C74.8,240.4 75.6,240.4 76.3,239.9 L76.2,241.3 C75.3,241.9 73.8,242.0 73.0,241.6 C71.6,240.8 71.6,238 72.3,233.9 L69.9,233.9 C69.4,236.5 68.6,238.8 67.0,240.6 C66.0,241.6 64.5,242.0 62.5,241.6 L62.8,240.2 C64.2,240.3 65.2,239.5 65.8,238.3 C66.5,236.8 66.9,235.3 67.1,233.9 L63.7,233.9 Z" stroke="#000" stroke-width="0.7" stroke-linejoin="round" transform="translate(278.4,225.2) scale(0.70,0.735) translate(-62.5,-231.3)"/>
</g>
</svg>
</body></html>
